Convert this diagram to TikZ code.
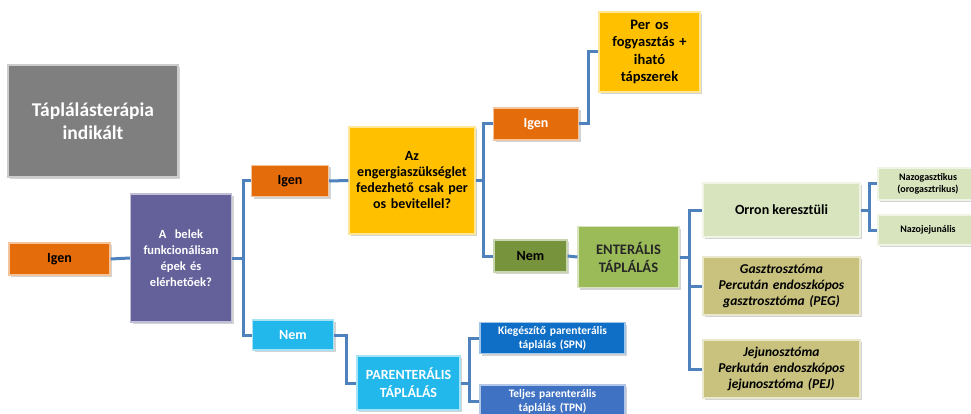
\documentclass[tikz,border=0pt]{standalone}
\usepackage{fontspec}
\setmainfont{Carlito}
\usetikzlibrary{shadows}
\definecolor{cgray}{HTML}{7F7F7F}
\definecolor{cpurple}{HTML}{64609A}
\definecolor{corange}{HTML}{E46C0A}
\definecolor{cyellow}{HTML}{FFC000}
\definecolor{colive}{HTML}{77933C}
\definecolor{cgreen}{HTML}{9BBB59}
\definecolor{clgreen}{HTML}{D7E4BD}
\definecolor{ckhaki}{HTML}{C9C27F}
\definecolor{ccyan}{HTML}{22B8EC}
\definecolor{cblue}{HTML}{0F6FC6}
\definecolor{cmblue}{HTML}{3F72C2}
\definecolor{cline}{HTML}{4F81BD}
\tikzset{
  box/.style={rectangle, inner sep=1pt, align=center, font=\bfseries\fontsize{14}{16.5}\selectfont,
    draw=white!60!#1, line width=1.2pt, fill=#1,
    drop shadow={opacity=0.35, shadow xshift=2pt, shadow yshift=-2pt}},
  conn/.style={draw=cline, line width=3pt},
}
\begin{document}
\begin{tikzpicture}[x=1pt,y=-1pt]
\useasboundingbox (0,0) rectangle (971,414);
\clip (0,0) rectangle (971,414);
% nodes
\node[box=cgray, text=white, minimum width=170, minimum height=112, text width=160,
  font=\bfseries\fontsize{19.5}{23}\selectfont] (tap) at (93,121) {Táplálásterápia\\indikált};
\node[box=corange, text=black, minimum width=101, minimum height=32] (igen1) at (59.5,259) {Igen};
\node[box=cpurple, text=white, minimum width=101, minimum height=128, text width=98,
  font=\bfseries\fontsize{12.5}{16}\selectfont] (belek) at (181,258) {A~ belek\\funkcionálisan\\épek és\\elérhetőek?};
\node[box=corange, text=black, minimum width=77, minimum height=31] (igen2) at (290,181) {Igen};
\node[box=ccyan, text=white, minimum width=81, minimum height=30] (nem1) at (293,335) {Nem};
\node[box=cyellow, text=black, minimum width=126, minimum height=107, text width=124,
  font=\bfseries\fontsize{14}{16}\selectfont] (energ) at (412,180.5) {Az\\engergiaszükséglet\\fedezhető csak per\\os bevitellel?};
\node[box=corange, text=white, minimum width=85, minimum height=32] (igen3) at (536,124) {Igen};
\node[box=cyellow, text=black, minimum width=101, minimum height=80, text width=99,
  font=\bfseries\fontsize{14.5}{17.5}\selectfont] (peros) at (649.5,52) {Per os\\fogyasztás +\\iható\\tápszerek};
\node[box=colive, text=black, minimum width=73, minimum height=32] (nem2) at (530.5,256) {Nem};
\node[box=cgreen, text=black!85, minimum width=101, minimum height=61, text width=99,
  font=\bfseries\fontsize{14.5}{18}\selectfont] (enteral) at (628.5,257) {ENTERÁLIS\\TÁPLÁLÁS};
\node[box=clgreen, text=black, minimum width=157, minimum height=54, font=\bfseries\fontsize{14}{16}\selectfont] (orron) at (781.5,210) {Orron keresztüli};
\node[box=ckhaki, text=black, minimum width=157, minimum height=58, text width=155,
  font=\bfseries\itshape\fontsize{13.5}{16}\selectfont] (gasz) at (781.5,286) {Gasztrosztóma\\Percután endoszkópos\\gasztrosztóma (PEG)};
\node[box=ckhaki, text=black, minimum width=157, minimum height=58, text width=155,
  font=\bfseries\itshape\fontsize{13.5}{16}\selectfont] (jeju) at (781.5,369) {Jejunosztóma\\Perkután endoszkópos\\jejunosztóma (PEJ)};
\node[box=clgreen, text=black, minimum width=100, minimum height=32, text width=96,
  font=\bfseries\fontsize{10}{12}\selectfont] (nazog) at (928,184) {Nazogasztikus\\(orogasztrikus)};
\node[box=clgreen, text=black, minimum width=100, minimum height=30,
  font=\bfseries\fontsize{10}{12}\selectfont] (nazoj) at (928,230) {Nazojejunális};
\node[box=ccyan, text=white, minimum width=103, minimum height=54, text width=101,
  font=\bfseries\fontsize{14}{18}\selectfont] (parent) at (408.5,383) {PARENTERÁLIS\\TÁPLÁLÁS};
\node[box=cblue, text=white, minimum width=145, minimum height=31, text width=142,
  font=\bfseries\fontsize{11.5}{14}\selectfont] (spn) at (552.5,338) {Kiegészítő parenterális\\táplálás (SPN)};
\node[box=cmblue, text=white, minimum width=145, minimum height=32, text width=142,
  font=\bfseries\fontsize{11.5}{14}\selectfont] (tpn) at (552.5,401) {Teljes parenterális\\táplálás (TPN)};
% connectors
\draw[conn] (igen1.east) -- (belek.west);
\draw[conn] (belek.east) -- ++(11,0) |- (igen2.west);
\draw[conn] (belek.east) -- ++(11,0) |- (nem1.west);
\draw[conn] (igen2.east) -- (energ.west);
\draw[conn] (energ.east) -- ++(8,0) |- (igen3.west);
\draw[conn] (energ.east) -- ++(8,0) |- (nem2.west);
\draw[conn] (igen3.east) -- ++(9,0) |- (peros.west);
\draw[conn] (nem2.east) -- (enteral.west);
\draw[conn] (enteral.east) -- ++(10,0) |- (orron.west);
\draw[conn] (enteral.east) -- ++(10,0) |- (gasz.west);
\draw[conn] (enteral.east) -- ++(10,0) |- (jeju.west);
\draw[conn] (orron.east) -- ++(9,0) |- (nazog.west);
\draw[conn] (orron.east) -- ++(9,0) |- (nazoj.west);
\draw[conn] (nem1.east) -- ++(12,0) |- (parent.west);
\draw[conn] (parent.east) -- ++(9,0) |- (spn.west);
\draw[conn] (parent.east) -- ++(9,0) |- (tpn.west);
\end{tikzpicture}
\end{document}
